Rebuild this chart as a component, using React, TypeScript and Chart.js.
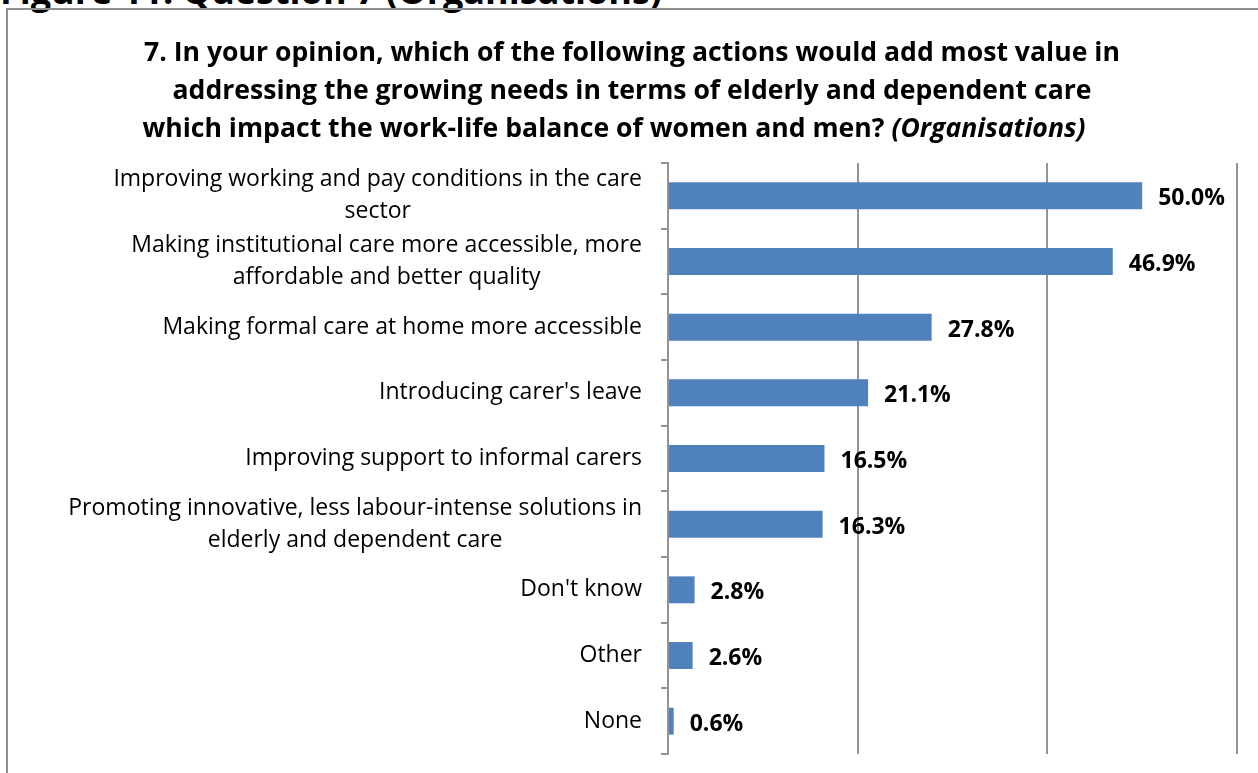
import React, { useEffect, useRef } from "react";
import { Chart, registerables } from "chart.js";

Chart.register(...registerables);

const categories: string[][] = [
  ["Improving working and pay conditions in the care", "sector"],
  ["Making institutional care more accessible, more", "affordable and better quality"],
  ["Making formal care at home more accessible"],
  ["Introducing carer's leave"],
  ["Improving support to informal carers"],
  ["Promoting innovative, less labour-intense solutions in", "elderly and dependent care"],
  ["Don't know"],
  ["Other"],
  ["None"],
];

const values: number[] = [50.0, 46.9, 27.8, 21.1, 16.5, 16.3, 2.8, 2.6, 0.6];

const xTicks: number[] = [0, 20, 40, 60];

const headingText = "Figure 11: Question 7 (Organisations)";
const titleLines: string[] = [
  "7. In your opinion, which of the following actions would add most value in",
  "addressing the growing needs in terms of elderly and dependent care",
  "which impact the work-life balance of women and men?",
];
const titleItalic = "(Organisations)";

const FONT = "'Open Sans', 'DejaVu Sans', sans-serif";
const GRID = "#939393";

const labelPlugin = {
  id: "customLabels",
  afterDraw(chart: any) {
    const ctx = chart.ctx;
    const yScale = chart.scales.y;
    const area = chart.chartArea;
    ctx.save();
    // category labels: block right-aligned, lines centered within block
    ctx.font = `23px ${FONT}`;
    ctx.fillStyle = "#000";
    ctx.textBaseline = "middle";
    ctx.textAlign = "center";
    const lh = 32;
    categories.forEach((lines, i) => {
      const yc = yScale.getPixelForValue(i);
      const w = Math.max(...lines.map((l) => ctx.measureText(l).width));
      const right = area.left - 26;
      const cx = right - w / 2;
      const y0 = yc - ((lines.length - 1) * lh) / 2;
      lines.forEach((l, j) => ctx.fillText(l, cx, y0 + j * lh));
    });
    // value labels
    ctx.font = `bold 23px ${FONT}`;
    ctx.textAlign = "left";
    const meta = chart.getDatasetMeta(0);
    meta.data.forEach((bar: any, i: number) => {
      ctx.fillText(values[i].toFixed(1) + "%", bar.x + 16, bar.y + 3);
    });
    ctx.restore();
  },
};

export default function App() {
  const ref = useRef<HTMLCanvasElement | null>(null);

  useEffect(() => {
    if (!ref.current) return;
    const chart = new Chart(ref.current, {
      type: "bar",
      data: {
        labels: categories.map((c) => c.join(" ")),
        datasets: [
          {
            data: values,
            backgroundColor: "#4F81BD",
            borderWidth: 0,
            categoryPercentage: 1,
            barPercentage: 0.41,
          },
        ],
      },
      options: {
        indexAxis: "y",
        responsive: false,
        animation: false,
        layout: { padding: { top: 163, bottom: 19, left: 0, right: 21 } },
        plugins: {
          legend: { display: false },
          title: { display: false },
          tooltip: { enabled: false },
        },
        scales: {
          x: {
            min: 0,
            max: 60,
            afterBuildTicks: (scale: any) => {
              scale.ticks = xTicks.map((v) => ({ value: v }));
            },
            ticks: { display: false },
            grid: { color: GRID, lineWidth: 2, drawTicks: false },
            border: { display: false },
          },
          y: {
            ticks: { display: false },
            grid: {
              display: true,
              drawOnChartArea: false,
              drawTicks: true,
              tickLength: 7,
              color: GRID,
              lineWidth: 2,
              offset: true,
            },
            border: { display: true, color: GRID, width: 2 },
            afterFit: (scale: any) => {
              scale.width = 668;
            },
          },
        },
      },
      plugins: [labelPlugin],
    });
    return () => chart.destroy();
  }, []);

  return (
    <div
      style={{
        position: "fixed",
        left: 0,
        top: 0,
        width: 1258,
        height: 773,
        overflow: "hidden",
        background: "#fff",
        fontFamily: FONT,
      }}
    >
      <div
        style={{
          position: "absolute",
          left: 0,
          top: -27,
          fontSize: 36,
          lineHeight: "36px",
          fontWeight: 700,
          whiteSpace: "nowrap",
          color: "#000",
        }}
      >
        {headingText}
      </div>
      <div
        style={{
          position: "absolute",
          left: 6,
          top: 8,
          width: 1300,
          height: 900,
          border: "2px solid #8f8f8f",
          boxSizing: "border-box",
          background: "transparent",
        }}
      />
      <canvas
        ref={ref}
        width={1258}
        height={773}
        style={{ position: "absolute", left: 0, top: 0, width: 1258, height: 773 }}
      />
      <div
        style={{
          position: "absolute",
          left: 7,
          top: 32,
          width: 1250,
          textAlign: "center",
          fontSize: 26.6,
          lineHeight: "38px",
          fontWeight: 700,
          color: "#000",
          whiteSpace: "nowrap",
        }}
      >
        <div>{titleLines[0]}</div>
        <div>{titleLines[1]}</div>
        <div style={{ transform: "translateX(-18px)" }}>
          {titleLines[2]} <i>{titleItalic}</i>
        </div>
      </div>
    </div>
  );
}
